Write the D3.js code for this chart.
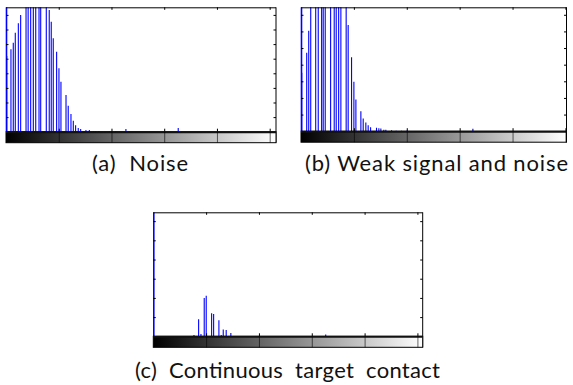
<!DOCTYPE html>
<html>
<head>
<meta charset="utf-8">
<script src="https://cdn.jsdelivr.net/npm/d3@7"></script>
<style>
  body { margin: 0; background: #fff; }
  svg { display: block; }
  .cap { font-family: Lato, "Noto Sans", sans-serif; font-weight: 400; font-size: 22px; fill: #111; white-space: pre; }
</style>
</head>
<body>
<div id="chart"></div>
<script>
// histogram bins (gray level) and pixel counts
const noiseBins = [0, 0.7, 4.7, 6.9, 8.8, 11.7, 13.9, 19, 21, 23.4, 25.9, 28.2, 31.3, 32.9, 38.2, 41, 42.9, 44.8, 48, 50.2, 52.1, 56.9, 59, 61.6, 63.8, 66, 68.5, 70.8, 75.8, 79, 83, 85, 88, 98, 100, 104, 113.7, 163.3];
const noiseCounts = [2000, 518, 564, 610, 678, 742, 799, 1000, 1000, 1000, 1000, 1000, 1000, 1000, 1000, 834, 753, 640, 548, 434, 342, 251, 178, 121, 75, 44, 25, 18, 12, 12, 5, 5, 5, 4, 4, 4, 18, 25];

const weakBins = [0, 0.7, 5.4, 7.3, 9.2, 13.9, 16.3, 19.5, 21, 22.9, 28, 31.4, 33.3, 35.6, 37.7, 42.7, 44.6, 47.8, 50, 51.9, 56.6, 58.8, 61.3, 63.5, 65.8, 71.4, 73.6, 75.5, 78.3, 80.2, 85.6, 90, 95, 100, 162.5];
const weakCounts = [2000, 351, 472, 604, 1000, 1000, 1000, 1000, 1000, 1000, 1000, 1000, 1000, 1000, 1000, 1000, 639, 444, 297, 191, 120, 77, 52, 36, 24, 20, 18, 16, 9, 9, 6, 3, 3, 3, 14];

const contactBins = [0, 33, 38.5, 42.9, 45.1, 48.2, 50.1, 55.2, 57.1, 62.1, 64.3, 66.2, 69, 73.4, 80, 85, 90, 100, 110, 120, 163.2];
const contactCounts = [2000, 2, 7, 89, 12, 199, 211, 120, 116, 83, 7, 36, 33, 17, 2, 2, 2, 2, 2, 2, 10];

const xTicks = [50, 100, 150, 200, 250];
const yTickStep = 100;
const captions = ['(a)  Noise', '(b) Weak signal and noise', '(c)  Continuous  target  contact'];

const panels = [
  { bins: noiseBins, counts: noiseCounts, left: 6, top: 7.3, w: 270, h: 124.4, xMax: 256, yMax: 852, cap: captions[0], cx: 140, cy: 171, tw: 96 },
  { bins: weakBins, counts: weakCounts, left: 301, top: 7.3, w: 265.5, h: 123.9, xMax: 251, yMax: 745, cap: captions[1], cx: 436.5, cy: 171, tw: 263 },
  { bins: contactBins, counts: contactCounts, left: 153.3, top: 212.3, w: 269.4, h: 124, xMax: 255, yMax: 646, cap: captions[2], cx: 287.5, cy: 378, tw: 305 }
];

const svg = d3.select('#chart').append('svg')
  .attr('width', 573).attr('height', 385);

const grad = svg.append('defs').append('linearGradient').attr('id', 'gray');
grad.append('stop').attr('offset', '0%').attr('stop-color', '#000');
grad.append('stop').attr('offset', '100%').attr('stop-color', '#fff');

panels.forEach((p, i) => {
  const cbH = 11;
  const x = d3.scaleLinear().domain([0, p.xMax]).range([0, p.w]);
  const y = d3.scaleLinear().domain([0, p.yMax]).range([p.h, 0]);
  const g = svg.append('g').attr('transform', 'translate(' + p.left + ',' + p.top + ')');

  g.append('clipPath').attr('id', 'clip' + i)
    .append('rect').attr('x', -1).attr('y', 0).attr('width', p.w + 1).attr('height', p.h);

  // bars
  g.append('g').attr('clip-path', 'url(#clip' + i + ')')
    .selectAll('line').data(p.bins)
    .enter().append('line')
    .attr('x1', d => x(d) + (d === 0 ? 0.5 : 0)).attr('x2', d => x(d) + (d === 0 ? 0.5 : 0))
    .attr('y1', y(0))
    .attr('y2', (d, j) => y(p.counts[j]))
    .attr('stroke', '#0000ff')
    .attr('stroke-width', (d) => d === 0 ? 1.6 : 1.1);

  // frame: top and right edges
  g.append('line').attr('x1', 0).attr('x2', p.w).attr('y1', 0.5).attr('y2', 0.5)
    .attr('stroke', '#000').attr('stroke-width', 1);
  g.append('line').attr('x1', p.w).attr('x2', p.w).attr('y1', 0).attr('y2', p.h + cbH)
    .attr('stroke', '#000').attr('stroke-width', 1);

  // y ticks, inward on both sides
  const yt = d3.range(yTickStep, p.yMax, yTickStep);
  g.append('g').call(d3.axisLeft(y).tickValues(yt).tickSize(-2.5).tickFormat(''))
    .call(a => a.select('.domain').remove())
    .selectAll('line').attr('stroke', '#000');
  g.append('g').attr('transform', 'translate(' + p.w + ',0)')
    .call(d3.axisRight(y).tickValues(yt).tickSize(-2.5).tickFormat(''))
    .call(a => a.select('.domain').remove())
    .selectAll('line').attr('stroke', '#000');

  // x ticks at top and above the axis
  g.append('g').call(d3.axisTop(x).tickValues(xTicks).tickSize(-2.5).tickFormat(''))
    .call(a => a.select('.domain').remove())
    .selectAll('line').attr('stroke', '#000');
  g.append('g').attr('transform', 'translate(0,' + p.h + ')')
    .call(d3.axisBottom(x).tickValues(xTicks).tickSize(-3).tickFormat(''))
    .call(a => a.select('.domain').remove())
    .selectAll('line').attr('stroke', '#000');

  // gray colour bar under the axis
  const cb = g.append('g').attr('transform', 'translate(0,' + p.h + ')');
  cb.append('rect').attr('x', 0).attr('y', 0).attr('width', Math.min(p.w, x(256))).attr('height', cbH)
    .attr('fill', 'url(#gray)');
  cb.append('rect').attr('x', 0).attr('y', 0).attr('width', p.w).attr('height', cbH)
    .attr('fill', 'none').attr('stroke', '#000').attr('stroke-width', 1);
  cb.append('line').attr('x1', 0).attr('x2', p.w).attr('y1', 0.5).attr('y2', 0.5)
    .attr('stroke', '#111').attr('stroke-width', 2);
  cb.append('g').call(d3.axisBottom(x).tickValues(xTicks).tickSize(cbH).tickFormat(''))
    .call(a => a.select('.domain').remove())
    .selectAll('line').attr('stroke', '#000').attr('stroke-opacity', 0.6);

  svg.append('text').attr('class', 'cap')
    .attr('x', p.cx - p.tw / 2).attr('y', p.cy)
    .attr('textLength', p.tw).attr('lengthAdjust', 'spacing')
    .text(p.cap);
});
</script>
</body>
</html>
